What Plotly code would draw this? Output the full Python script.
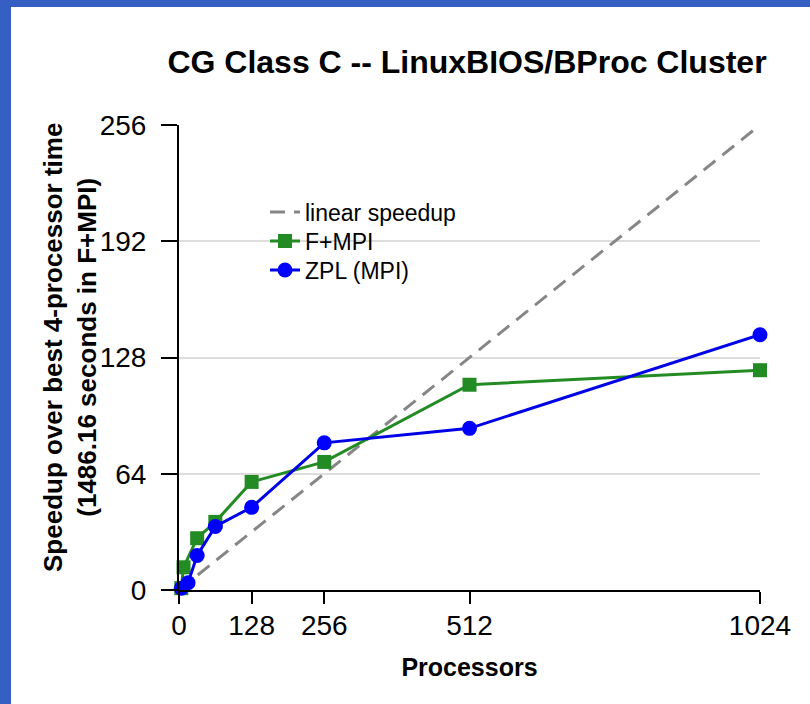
import plotly.graph_objects as go

# Data
linear_x = [0, 1024]
linear_y = [0, 256]

fmpi_procs = [4, 8, 32, 64, 128, 256, 512, 1024]
fmpi_speedup = [1, 12.5, 28.5, 37.5, 59.5, 70.5, 113, 121]

zpl_procs = [4, 16, 32, 64, 128, 256, 512, 1024]
zpl_speedup = [1, 4, 19, 35, 45.5, 81, 89, 140.5]

x_ticks = [0, 128, 256, 512, 1024]
y_ticks = [0, 64, 128, 192, 256]

FONT = "Liberation Sans, Arial, Helvetica, sans-serif"

fig = go.Figure()
fig.add_trace(go.Scatter(x=linear_x, y=linear_y, mode="lines", name="linear speedup",
                         line=dict(color="#868686", width=3, dash="15px,9px"), cliponaxis=False,
                         legend="legend"))
fig.add_trace(go.Scatter(x=fmpi_procs, y=fmpi_speedup, mode="lines+markers", name="F+MPI",
                         line=dict(color="#238b23", width=3),
                         marker=dict(symbol="square", size=14, color="#238b23"), cliponaxis=False,
                         legend="legend2"))
fig.add_trace(go.Scatter(x=zpl_procs, y=zpl_speedup, mode="lines+markers", name="ZPL (MPI)",
                         line=dict(color="#0000e6", width=3),
                         marker=dict(symbol="circle", size=15, color="#0000ff"), cliponaxis=False,
                         legend="legend3"))

L, R, T, B = 179, 50, 125, 114
W, H = 810, 704
pw, ph = W - L - R, H - T - B

def px(x):
    return (x - L) / pw

def py(y):
    return (H - B - y) / ph

BLUE = "#365fc4"
shapes = [
    dict(type="rect", xref="paper", yref="paper", x0=px(0), x1=px(11), y0=py(H), y1=py(0),
         fillcolor=BLUE, line=dict(width=0), layer="above"),
    dict(type="rect", xref="paper", yref="paper", x0=px(0), x1=px(W), y0=py(7), y1=py(0),
         fillcolor=BLUE, line=dict(width=0), layer="above"),
]

def leg(row_y):
    return dict(x=px(265), y=py(row_y), xanchor="left", yanchor="middle",
                bgcolor="rgba(0,0,0,0)", font=dict(size=23, family=FONT, color="black"),
                itemwidth=30, borderwidth=0)

fig.update_layout(
    width=W, height=H, autosize=False,
    margin=dict(l=L, r=R, t=T, b=B, pad=0),
    paper_bgcolor="white", plot_bgcolor="white",
    font=dict(family=FONT, color="black"),
    title=dict(text="<b>CG Class C -- LinuxBIOS/BProc Cluster</b>", x=px(467), xanchor="center",
               xref="paper", y=1 - 62 / H, yanchor="middle", yref="container",
               font=dict(size=32, family=FONT, color="black")),
    showlegend=True,
    legend=leg(212), legend2=leg(241), legend3=leg(270),
    shapes=shapes,
    xaxis=dict(range=[0, 1024], tickvals=x_ticks, ticktext=[str(v) for v in x_ticks],
               showgrid=False, zeroline=False, showline=True, linecolor="black", linewidth=2,
               ticks="outside", ticklen=12, tickwidth=2, tickcolor="black",
               ticklabelstandoff=-3,
               tickfont=dict(size=28, family=FONT),
               title=dict(text="<b>Processors</b>", font=dict(size=25, family=FONT), standoff=19)),
    yaxis=dict(range=[0, 256], tickvals=y_ticks, ticktext=[str(v) for v in y_ticks],
               showgrid=True, gridcolor="#dddddd", gridwidth=2, zeroline=False,
               showline=True, linecolor="black", linewidth=2,
               ticks="outside", ticklen=16, tickwidth=2, tickcolor="black",
               ticklabelstandoff=9,
               tickfont=dict(size=28, family=FONT)),
    annotations=[dict(text="<b>Speedup over best 4-processor time<br>(1486.16 seconds in F+MPI)</b>",
                      xref="paper", yref="paper", x=px(70), y=py(348), xanchor="center", yanchor="middle",
                      textangle=-90, showarrow=False, font=dict(size=26, family=FONT, color="black"))],
)

fig.write_html("out.html", config={"displayModeBar": False},
               post_script="document.body.style.margin='0';")
